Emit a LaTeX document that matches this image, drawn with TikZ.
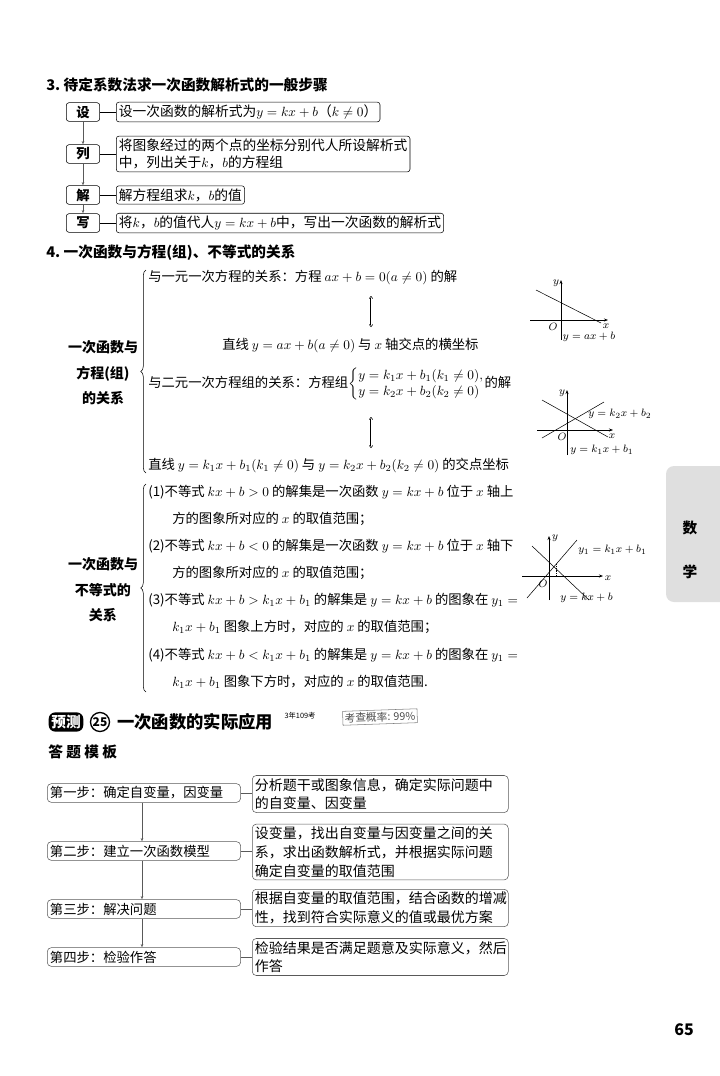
\documentclass[tikz,border=0pt]{standalone}
\usepackage{fontspec}
\setmainfont{Noto Sans CJK SC}
\usetikzlibrary{arrows,arrows.meta,decorations.pathreplacing}

\tikzset{
 txt/.style={anchor=west,inner sep=0pt,font=\fontsize{10}{12}\selectfont},
 head/.style={anchor=west,inner sep=0pt,font=\fontsize{11}{13}\selectfont\bfseries},
 keybox/.style={draw,rounded corners=2pt,minimum width=25pt,minimum height=14pt,inner sep=1pt,font=\fontsize{10}{12}\selectfont\bfseries},
 notebox/.style={draw,rounded corners=2pt,anchor=west,inner sep=2pt,align=left,font=\fontsize{10.3}{13}\selectfont},
 stagebox/.style={draw,gray!70!black,text=black,rounded corners=3pt,anchor=west,minimum height=14pt,inner sep=2pt,text width=141pt,align=left,font=\fontsize{10}{12}\selectfont},
 infobox/.style={draw,gray!70!black,text=black,rounded corners=3pt,anchor=west,inner sep=2pt,align=left,font=\fontsize{10.5}{14}\selectfont},
 dn/.style={-{Stealth[length=2.5pt]},gray!70!black},
 axis/.style={-{Stealth[length=3pt]},thin},
 tiny/.style={inner sep=0pt,font=\fontsize{8}{9}\selectfont},
 bracel/.style={decoration={brace,amplitude=4pt},decorate}
}

\begin{document}
\begin{tikzpicture}[x=0.75pt,y=-0.75pt]
\useasboundingbox (0,0) rectangle (720,1076);

% part 3
\node [head] (h3) at (46,85) {3.\ 待定系数法求一次函数解析式的一般步骤};
\node [keybox] (she) at (83,112) {设};
\node [keybox] (lie) at (83,154) {列};
\node [keybox] (jie) at (83,195) {解};
\node [keybox] (xie) at (83,223) {写};
\node [notebox] (n1) at (116,112) {设一次函数的解析式为$y=kx+b$（$k\neq0$）};
\node [notebox] (n2) at (116,154) {将图象经过的两个点的坐标分别代人所设解析式\\中，列出关于$k$，$b$的方程组};
\node [notebox] (n3) at (116,195) {解方程组求$k$，$b$的值};
\node [notebox] (n4) at (116,223) {将$k$，$b$的值代人$y=kx+b$中，写出一次函数的解析式};
\draw (she) -- (n1); \draw (lie) -- (n2); \draw (jie) -- (n3); \draw (xie) -- (n4);
\draw [dn] (she) -- (lie); \draw [dn] (lie) -- (jie); \draw [dn] (jie) -- (xie);

% part 4
\node [head] (h4) at (46,253) {4.\ 一次函数与方程(组)、不等式的关系};
\node [align=center,font=\fontsize{10.5}{19}\selectfont\bfseries] (fz) at (103,373) {一次函数与\\方程(组)\\的关系};
\draw [bracel] (146,473) -- (146,270);
\node [txt] (e1) at (148,278) {与一元一次方程的关系：方程 $ax+b=0(a\neq0)$ 的解};
\node [txt] (e2) at (222,345) {直线 $y=ax+b(a\neq0)$ 与 $x$ 轴交点的横坐标};
\node [txt] (e3) at (148,384) {与二元一次方程组的关系：方程组$\left\{\begin{array}{@{}l@{}}y=k_1x+b_1(k_1\neq0),\\ y=k_2x+b_2(k_2\neq0)\end{array}\right.$的解};
\node [txt] (e4) at (148,465) {直线 $y=k_1x+b_1(k_1\neq0)$ 与 $y=k_2x+b_2(k_2\neq0)$ 的交点坐标};
\coordinate (u1) at (371,296); \coordinate (u2) at (371,327);
\coordinate (w1) at (371,417); \coordinate (w2) at (371,448);
\draw [double,Implies-Implies] (u1) -- (u2);
\draw [double,Implies-Implies] (w1) -- (w2);

\node [align=center,font=\fontsize{10.5}{19}\selectfont\bfseries] (bd) at (103,590) {一次函数与\\不等式的\\关系};
\draw [bracel] (146,692) -- (146,484);
\node [txt] (i1) at (148,492) {(1)不等式 $kx+b>0$ 的解集是一次函数 $y=kx+b$ 位于 $x$ 轴上};
\node [txt] (i1b) at (172,519) {方的图象所对应的 $x$ 的取值范围；};
\node [txt] (i2) at (148,546) {(2)不等式 $kx+b<0$ 的解集是一次函数 $y=kx+b$ 位于 $x$ 轴下};
\node [txt] (i2b) at (172,573) {方的图象所对应的 $x$ 的取值范围；};
\node [txt] (i3) at (148,600) {(3)不等式 $kx+b>k_1x+b_1$ 的解集是 $y=kx+b$ 的图象在 $y_1=$};
\node [txt] (i3b) at (172,627) {$k_1x+b_1$ 图象上方时，对应的 $x$ 的取值范围；};
\node [txt] (i4) at (148,655) {(4)不等式 $kx+b<k_1x+b_1$ 的解集是 $y=kx+b$ 的图象在 $y_1=$};
\node [txt] (i4b) at (172,682) {$k_1x+b_1$ 图象下方时，对应的 $x$ 的取值范围.};

% graphs
\draw [axis] (530,320) -- (608,320); \draw [axis] (561,340) -- (561,280);
\draw (536,290) -- (601,323);
\node [tiny] at (553,327) {$O$}; \node [tiny] at (606,326) {$x$}; \node [tiny] at (556,283) {$y$};
\node [tiny] at (589,337) {$y=ax+b$};

\draw [axis] (537,430) -- (613,430); \draw [axis] (567,455) -- (567,390);
\draw (542,400) -- (608,437); \draw (542,438) -- (604,402);
\node [tiny] at (562,437) {$O$}; \node [tiny] at (612,436) {$x$}; \node [tiny] at (562,393) {$y$};
\node [tiny,anchor=west] at (588,414) {$y=k_2x+b_2$}; \node [tiny,anchor=west] at (570,450) {$y=k_1x+b_1$};

\draw [axis] (522,576) -- (603,576); \draw [axis] (549,600) -- (549,536);
\draw (532,546) -- (589,600); \draw (527,598) -- (577,540);
\draw [densely dotted] (556,564) -- (556,576);
\node [tiny] at (543,584) {$O$}; \node [tiny] at (608,578) {$x$}; \node [tiny] at (555,538) {$y$};
\node [tiny,anchor=west] at (578,550) {$y_1=k_1x+b_1$}; \node [tiny,anchor=west] at (560,598) {$y=kx+b$};

% side tab
\fill [gray!25,rounded corners=6pt] (666,466) rectangle (730,602);
\node [font=\fontsize{11}{13}\selectfont\bfseries] (sh) at (690,528) {数};
\node [font=\fontsize{11}{13}\selectfont\bfseries] (xue) at (690,572) {学};

% forecast 25
\node [fill=black,text=white,rounded corners=5pt,inner sep=2pt,font=\fontsize{11}{13}\selectfont\bfseries] (yc) at (66,722) {预测};
\node [draw,circle,line width=1pt,inner sep=0.5pt,font=\fontsize{9}{10}\selectfont\bfseries] (num) at (100,722) {25};
\node [head,font=\fontsize{13}{15}\selectfont\bfseries] (title) at (117,722) {一次函数的实际应用};
\node [tiny,font=\fontsize{5.5}{6}\selectfont] (freq) at (300,716) {3年109考};
\node [draw,gray,text=gray!60!black,rotate=2,inner sep=1.5pt,font=\fontsize{8}{9}\selectfont] (rate) at (380,717) {考查概率: 99\%};
\node [head] (mb) at (48,752) {答 题 模 板};

\node [stagebox] (s1) at (47,793) {第一步：确定自变量，因变量};
\node [stagebox] (s2) at (47,851) {第二步：建立一次函数模型};
\node [stagebox] (s3) at (47,909) {第三步：解决问题};
\node [stagebox] (s4) at (47,957) {第四步：检验作答};
\node [infobox,text width=188pt] (r1) at (252,794) {分析题干或图象信息，确定实际问题中\\的自变量、因变量};
\node [infobox,text width=188pt] (r2) at (252,852) {设变量，找出自变量与因变量之间的关\\系，求出函数解析式，并根据实际问题\\确定自变量的取值范围};
\node [infobox,text width=188pt] (r3) at (252,908) {根据自变量的取值范围，结合函数的增减\\性，找到符合实际意义的值或最优方案};
\node [infobox,text width=188pt] (r4) at (252,957) {检验结果是否满足题意及实际意义，然后\\作答};
\foreach \a/\b in {s1/r1,s2/r2,s3/r3,s4/r4} \draw [gray!70!black] (\a) -- (\b.west |- \a);
\draw [dn] (s1.south -| 142,0) -- (s2.north -| 142,0);
\draw [dn] (s2.south -| 142,0) -- (s3.north -| 142,0);
\draw [dn] (s3.south -| 142,0) -- (s4.north -| 142,0);

\node [font=\fontsize{12}{14}\selectfont\bfseries] (pg) at (684,1030) {65};
\end{tikzpicture}
\end{document}
